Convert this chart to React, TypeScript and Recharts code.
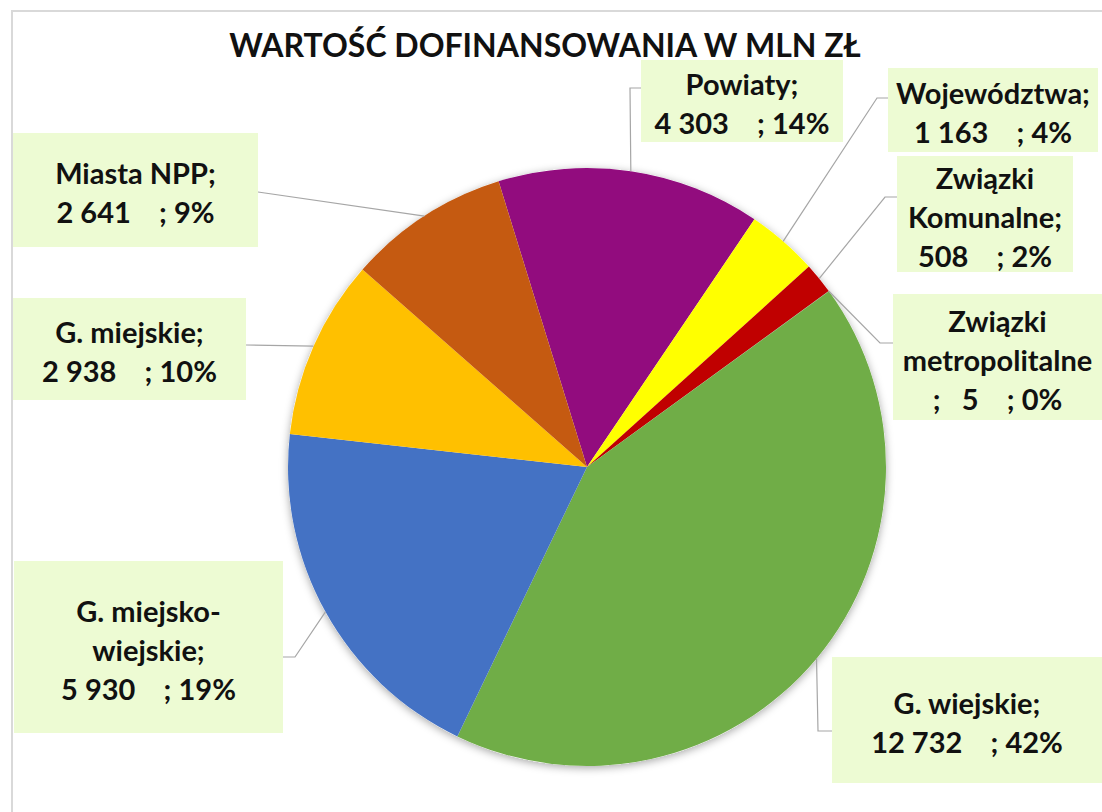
import React from 'react';
import { PieChart, Pie, Cell } from 'recharts';

const CATEGORIES = [
  'Powiaty',
  'Województwa',
  'Związki\nKomunalne',
  'Związki\nmetropolitalne',
  'G. wiejskie',
  'G. miejsko-\nwiejskie',
  'G. miejskie',
  'Miasta NPP',
];
const VALUES = [4303, 1163, 508, 5, 12732, 5930, 2938, 2641];
const PERCENT_LABELS = ['14%', '4%', '2%', '0%', '42%', '19%', '10%', '9%'];
const COLORS = ['#920C7E', '#FFFF00', '#C00000', '#7F7F7F', '#70AD47', '#4472C4', '#FFC000', '#C55A11'];

// label box placement: [x, y, w, h], optional elbow point, point where the leader meets the box
const LABEL_LAYOUT = [
  { box: [641, 60, 202, 82], elbow: [630, 88], edge: [641, 88] },
  { box: [888, 68, 210, 84], elbow: [877, 98], edge: [888, 98] },
  { box: [897, 156, 176, 116], elbow: [885, 197], edge: [897, 197] },
  { box: [893, 294, 215, 126], elbow: [880, 343], edge: [893, 343], wrapSemicolon: true },
  { box: [832, 657, 275, 126], elbow: [818, 731], edge: [832, 731] },
  { box: [14, 561, 269, 172], elbow: [295, 657], edge: [283, 657] },
  { box: [13, 298, 233, 102], elbow: null, edge: [246, 345] },
  { box: [13, 133, 245, 114], elbow: null, edge: [258, 192] },
];

const data = CATEGORIES.map((name, i) => ({ name, value: VALUES[i], pct: PERCENT_LABELS[i] }));

const fmt = (v: number) => String(v).replace(/\B(?=(\d{3})+(?!\d))/g, ' ');
const RADIAN = Math.PI / 180;
const FONT = 'Lato, "Open Sans", sans-serif';

const renderLabel = (props: any) => {
  const { cx, cy, midAngle, outerRadius, index } = props;
  const d = data[index];
  const lay = LABEL_LAYOUT[index];
  const ax = cx + outerRadius * Math.cos(-midAngle * RADIAN);
  const ay = cy + outerRadius * Math.sin(-midAngle * RADIAN);
  const nameLines = d.name.split('\n');
  const lines = lay.wrapSemicolon
    ? [...nameLines, `;   ${fmt(d.value)}    ; ${d.pct}`]
    : [...nameLines.slice(0, -1), nameLines[nameLines.length - 1] + ';', `${fmt(d.value)}    ; ${d.pct}`];
  const [bx, by, bw, bh] = lay.box;
  const lh = 39;
  const firstY = by + bh / 2 - ((lines.length - 1) * lh) / 2 + 2;
  const path = lay.elbow
    ? `M${ax},${ay}L${lay.elbow[0]},${lay.elbow[1]}L${lay.edge[0]},${lay.edge[1]}`
    : `M${ax},${ay}L${lay.edge[0]},${lay.edge[1]}`;
  const tx = Math.min(bx + bw / 2, bx + (1102 - bx) / 2);
  return (
    <g key={`lbl-${index}`}>
      <path d={path} stroke="#A6A6A6" strokeWidth={1.2} fill="none" />
      <rect x={bx} y={by} width={bw} height={bh} fill="#EDFBD3" />
      <text
        x={tx}
        textAnchor="middle"
        fontFamily={FONT}
        fontWeight={700}
        fontSize={29}
        fill="#111"
        style={{ whiteSpace: 'pre' }}
      >
        {lines.map((ln, i) => (
          <tspan key={i} x={tx} y={firstY + i * lh} dominantBaseline="central">
            {ln}
          </tspan>
        ))}
      </text>
    </g>
  );
};

export default function App() {
  return (
    <div style={{ position: 'absolute', left: 0, top: 0, width: 1102, height: 812, background: '#fff', overflow: 'hidden' }}>
      <svg width={0} height={0} style={{ position: 'absolute' }}>
        <defs>
          <filter id="pieShadow" x="-10%" y="-10%" width="120%" height="120%">
            <feDropShadow dx={0} dy={2} stdDeviation={4} floodColor="#000" floodOpacity={0.35} />
          </filter>
        </defs>
      </svg>
      <div
        style={{
          position: 'absolute',
          left: 11,
          top: 10,
          width: 1102,
          height: 812,
          border: '2px solid #D9D9D9',
          boxSizing: 'border-box',
        }}
      />
      <div
        style={{
          position: 'absolute',
          left: 0,
          width: 1090,
          top: 25,
          textAlign: 'center',
          fontFamily: FONT,
          fontWeight: 700,
          fontSize: 32,
          color: '#111',
          letterSpacing: 0,
        }}
      >
        WARTOŚĆ DOFINANSOWANIA W MLN ZŁ
      </div>
      <div style={{ position: 'absolute', left: 0, top: 0 }}>
        <PieChart width={1102} height={812} margin={{ top: 0, right: 0, bottom: 0, left: 0 }}>
          <Pie
            data={[{ name: 'bg', value: 1 }]}
            dataKey="value"
            cx={587}
            cy={467}
            outerRadius={299}
            startAngle={90}
            endAngle={-270}
            isAnimationActive={false}
            stroke="none"
          >
            <Cell fill="#FFFFFF" filter="url(#pieShadow)" />
          </Pie>
          <Pie
            data={data}
            dataKey="value"
            nameKey="name"
            cx={587}
            cy={467}
            outerRadius={299}
            startAngle={107.2}
            endAngle={-252.8}
            isAnimationActive={false}
            stroke="none"
            labelLine={false}
            label={renderLabel}
          >
            {data.map((d, i) => (
              <Cell key={d.name} fill={COLORS[i]} />
            ))}
          </Pie>
        </PieChart>
      </div>
    </div>
  );
}
